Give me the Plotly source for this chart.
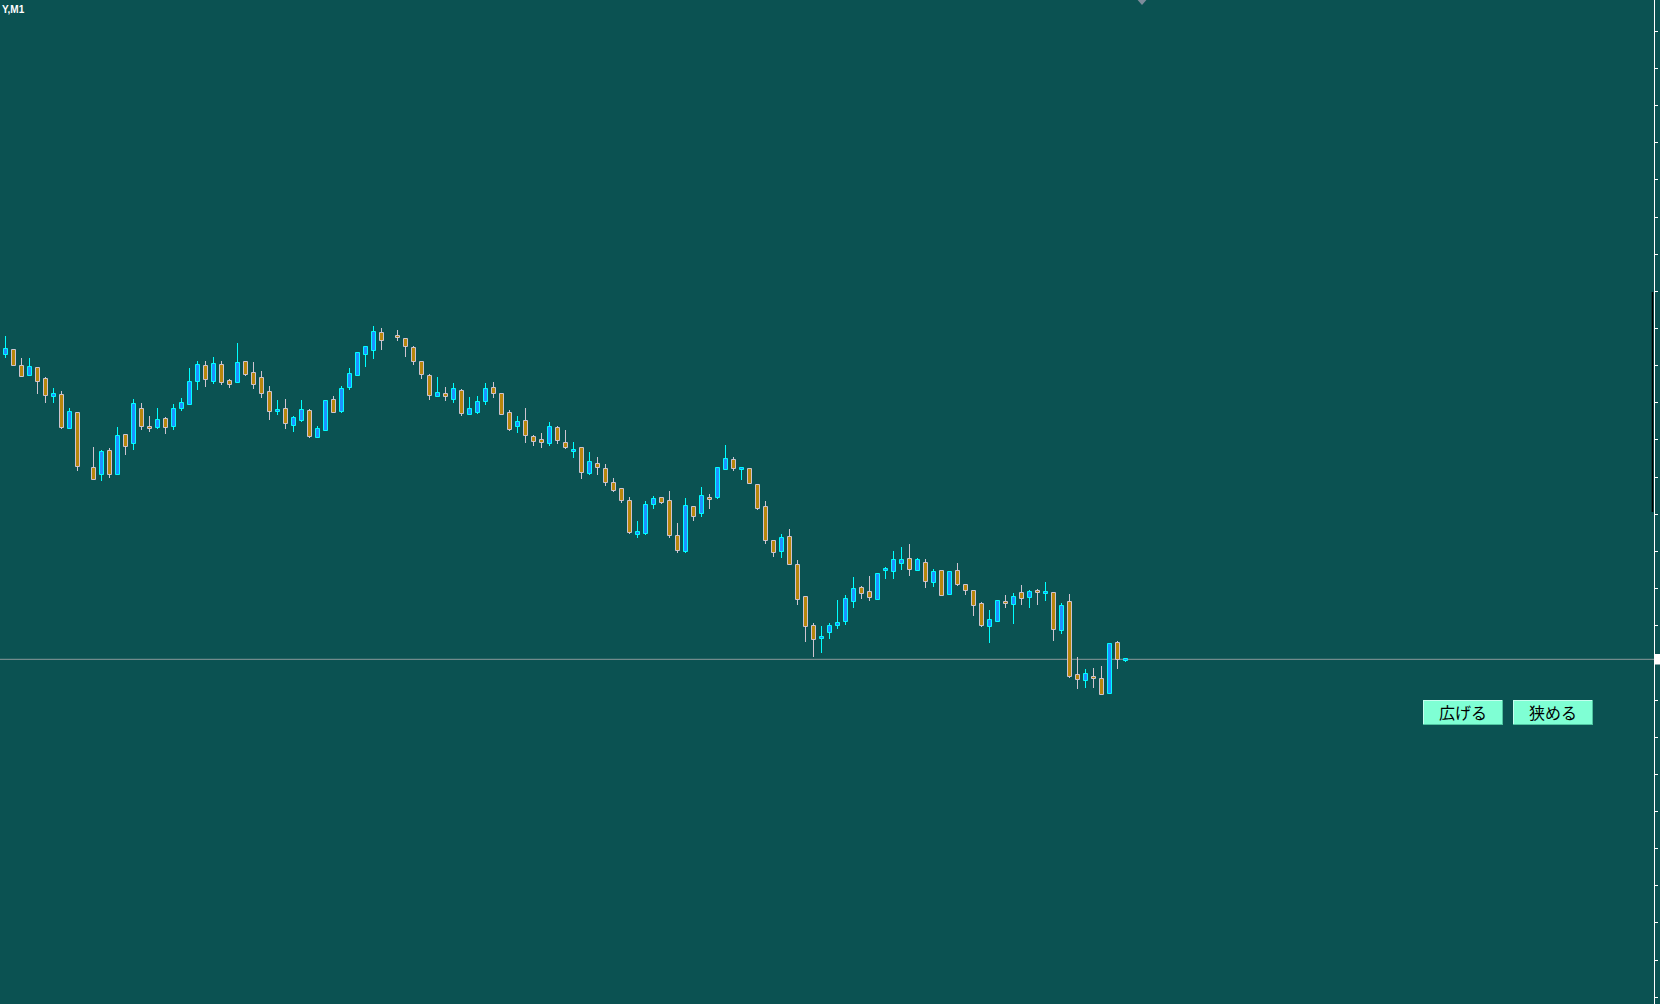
import plotly.graph_objects as go

# ---------------- data (USDJPY M1) ----------------
symbol_label = "Y,M1"
button_labels = ["広げる", "狭める"]

open_ = [119.6453, 119.650, 119.634, 119.6243, 119.632, 119.621, 119.6033, 119.605, 119.5713, 119.587,
         None, 119.5317, 119.5253, 119.5487, 119.5247, 119.5647, 119.5557, 119.5907, 119.573, 119.5723,
         119.581, 119.5733, 119.5913, 119.5953, 119.6183, 119.6337, 119.6183, 119.6347, 119.6187, 119.6173,
         119.6377, 119.6267, 119.6217, 119.6077, 119.5877, 119.5907, 119.5743, 119.5793, 119.5887, 119.5617,
         119.5693, 119.5997, 119.5883, 119.6123, 119.6243, 119.6453, 119.6493, 119.6667, None, 119.664,
         119.6607, 119.6517, 119.6377, 119.6237, 119.6033, 119.6057, 119.5997, 119.6087, 119.5853, 119.5873,
         119.5983, 119.6117, 119.6057, 119.5867, 119.5733, 119.5787, 119.5627, 119.5597, 119.5563, 119.5717,
         119.557, 119.5483, 119.5517, 119.5263, 119.5357, 119.5307, 119.5167, 119.5107, 119.4987, 119.4653,
         119.466, 119.4953, 119.5017, 119.4987, 119.4637, 119.4483, 119.4927, 119.4863, 119.502, 119.5023,
         119.5303, 119.5397, 119.530, 119.5307, 119.5147, 119.4927, 119.4587, 119.4483, 119.463, 119.4347,
         119.4027, 119.3737, 119.3613, 119.3673, 119.3743, 119.3783, 119.3983, 119.4117, 119.4077, 119.4003,
         119.4287, 119.4283, 119.4363, 119.4407, 119.4293, 119.4367, 119.4173, 119.4287, 119.4053, 119.4287,
         119.4147, 119.4087, 119.3957, 119.3733, 119.3783, 119.398, 119.3953, 119.407, 119.4023, 119.409,
         119.4063, 119.4067, 119.3693, 119.3977, 119.3247, 119.3193, 119.323, 119.321, 119.3063, 119.3567,
         119.3393]

high = [119.664, 119.650, 119.642, 119.642, 119.632, 119.623, 119.612, 119.609, 119.592, 119.588,
        None, 119.553, 119.550, 119.552, 119.573, 119.5657, 119.601, 119.597, 119.584, 119.592,
        119.583, 119.596, 119.602, 119.632, 119.639, 119.639, 119.643, 119.639, 119.621, 119.657,
        119.639, 119.638, 119.629, 119.614, 119.600, 119.601, 119.584, 119.600, 119.591, 119.5737,
        119.599, 119.604, 119.614, 119.632, 119.647, 119.653, 119.674, 119.672, None, 119.670,
        119.6607, 119.6537, 119.6377, 119.626, 119.623, 119.613, 119.617, 119.611, 119.603, 119.604,
        119.617, 119.618, 119.606, 119.590, 119.584, 119.592, 119.5647, 119.567, 119.578, 119.574,
        119.570, 119.558, 119.553, 119.548, 119.543, 119.536, 119.5217, 119.5117, 119.5027, 119.479,
        119.4987, 119.5037, 119.5027, 119.5087, 119.477, 119.502, 119.4927, 119.5127, 119.5057, 119.5327,
        119.555, 119.543, 119.5317, 119.5317, 119.5157, 119.4987, 119.4603, 119.466, 119.471, 119.440,
        119.403, 119.377, 119.374, 119.377, 119.400, 119.405, 119.423, 119.414, 119.424, 119.426,
        119.433, 119.449, 119.453, 119.456, 119.442, 119.441, 119.431, 119.429, 119.429, 119.437,
        119.416, 119.410, 119.398, 119.390, 119.399, 119.405, 119.407, 119.415, 119.410, 119.411,
        119.418, 119.407, 119.397, 119.406, 119.343, 119.331, 119.332, 119.334, 119.356, 119.359,
        119.341]

low = [119.642, 119.6343, 119.6233, 119.6243, 119.606, 119.5973, 119.5973, 119.5713, 119.5713, 119.5293,
       None, 119.5203, 119.5193, 119.5223, 119.5247, 119.5453, 119.5503, 119.5703, 119.568, 119.5713,
       119.5663, 119.5703, 119.5893, 119.5953, 119.6103, 119.6133, 119.6163, 119.6153, 119.6123, 119.6173,
       119.6243, 119.6113, 119.6023, 119.580, 119.5853, 119.5713, 119.5683, 119.5783, 119.5623, 119.5617,
       119.5693, 119.5873, 119.587, 119.610, 119.6243, 119.6333, 119.6413, 119.6503, None, 119.6593,
       119.6433, 119.6353, 119.6213, 119.6003, 119.6033, 119.5993, 119.5973, 119.5843, 119.5853, 119.5863,
       119.5953, 119.6023, 119.5853, 119.5693, 119.5673, 119.5573, 119.5543, 119.5523, 119.5543, 119.5563,
       119.5513, 119.5423, 119.5213, 119.5253, 119.5253, 119.5143, 119.5083, 119.4973, 119.4663, 119.4623,
       119.4653, 119.4913, 119.4963, 119.4623, 119.4473, 119.4473, 119.4793, 119.4833, 119.4913, 119.5013,
       119.5303, 119.5293, 119.520, 119.5157, 119.490, 119.4563, 119.4433, 119.4423, 119.4353, 119.3953,
       119.3583, 119.3433, 119.3473, 119.3613, 119.371, 119.3753, 119.3923, 119.4013, 119.3993, 119.4003,
       119.421, 119.421, 119.4303, 119.4243, 119.4293, 119.4123, 119.4133, 119.4043, 119.4053, 119.4143,
       119.4053, 119.384, 119.373, 119.3573, 119.3783, 119.392, 119.3763, 119.3953, 119.3923, 119.3953,
       119.3993, 119.3593, 119.3663, 119.3223, 119.3113, 119.3123, 119.3123, 119.3053, 119.3063, 119.3313,
       119.3383]

close = [119.6507, 119.6343, 119.6233, 119.633, 119.6183, 119.6043, 119.606, 119.5723, 119.588, 119.5333,
         None, 119.5203, 119.5477, 119.5253, 119.5637, 119.5533, 119.5957, 119.5733, 119.5713, 119.5797,
         119.5723, 119.5907, 119.5967, 119.618, 119.6347, 119.6203, 119.6357, 119.6173, 119.6153, 119.6367,
         119.6253, 119.6153, 119.6063, 119.5883, 119.590, 119.5763, 119.5817, 119.5897, 119.5633, 119.5707,
         119.5987, 119.5873, 119.6107, 119.6257, 119.6467, 119.6527, 119.6677, 119.6593, None, 119.6623,
         119.6527, 119.6383, 119.6247, 119.6043, 119.6067, 119.6033, 119.6107, 119.5863, 119.5907, 119.5977,
         119.6107, 119.6063, 119.5853, 119.5703, 119.5777, 119.5643, 119.5577, 119.5573, 119.5727, 119.5593,
         119.5523, 119.550, 119.5273, 119.5377, 119.5323, 119.5173, 119.5093, 119.4993, 119.467, 119.4677,
         119.4947, 119.5007, 119.4973, 119.4643, 119.4493, 119.4937, 119.4833, 119.5037, 119.5003, 119.5317,
         119.5407, 119.5313, 119.5317, 119.5157, 119.491, 119.4593, 119.4473, 119.462, 119.4353, 119.4003,
         119.3727, 119.3603, 119.363, 119.3737, 119.3767, 119.4007, 119.4107, 119.4063, 119.4023, 119.4257,
         119.4307, 119.4397, 119.4397, 119.4303, 119.4397, 119.4183, 119.4277, 119.4043, 119.428, 119.4153,
         119.4093, 119.3943, 119.3743, 119.3797, 119.3987, 119.3963, 119.4027, 119.4013, 119.408, 119.4073,
         119.408, 119.3703, 119.3937, 119.3233, 119.3203, 119.3257, 119.3213, 119.3053, 119.3557, 119.3403,
         119.3407]

# ---------------- style ----------------
BG = "#0b5252"
UP_FILL, UP_EDGE = "#1e90ff", "#00ffff"
DN_FILL, DN_EDGE = "#b8860b", "#cfc4cf"
BID_COLOR = "#8c9a9c"

W, H = 1660, 1004
MR = 6
PW = W - MR
PXU = 8.0                       # pixels per bar
X0 = -5.5 / PXU
X_RANGE = [X0, X0 + PW / PXU]
Y_TOP = 120.0
Y_RANGE = [Y_TOP - H / 1000.0, Y_TOP]


def px(x):
    return x / PW


def py(y):
    return 1 - y / H


# ---------------- build marks ----------------
bx, base, hgt, fills, edges = [], [], [], [], []
wbase, whgt = [], []
for i, (o, h, l, c) in enumerate(zip(open_, high, low, close)):
    if o is None:
        continue
    up = c > o
    bx.append(i)
    base.append(min(o, c))
    hgt.append(abs(c - o))
    wbase.append(l)
    whgt.append(h - l)
    fills.append(UP_FILL if up else DN_FILL)
    edges.append(UP_EDGE if up else DN_EDGE)

fig = go.Figure()
# wicks (1 px wide bars, drawn first so the bodies cover them)
fig.add_trace(go.Bar(x=bx, y=whgt, base=wbase, width=1.0 / PXU,
                     marker=dict(color=edges, line=dict(width=0)),
                     hoverinfo="skip", showlegend=False))
# bodies
fig.add_trace(go.Bar(x=bx, y=hgt, base=base, width=0.5,
                     marker=dict(color=fills, line=dict(color=edges, width=1)),
                     hoverinfo="skip", showlegend=False))

shapes = []
# bid line
shapes.append(dict(type="line", xref="paper", yref="y", x0=0, x1=1,
                   y0=close[-1], y1=close[-1], layer="below",
                   line=dict(color=BID_COLOR, width=1)))
# bid marker on price scale
shapes.append(dict(type="rect", xref="paper", yref="paper",
                   x0=px(1655), x1=px(1662), y0=py(664.5), y1=py(654),
                   fillcolor="white", line=dict(width=0)))
# black bar beside the price scale
shapes.append(dict(type="rect", xref="paper", yref="paper",
                   x0=px(1651.7), x1=px(1653.3), y0=py(512), y1=py(292),
                   fillcolor="black", line=dict(width=0)))
# chart-shift triangle at the top
tx = (1142 - 5.5) / PXU
shapes.append(dict(type="path", xref="x", yref="paper",
                   path=f"M {tx-0.55},1 L {tx+0.55},1 L {tx},{py(5)} Z",
                   fillcolor="#7d8c9b", line=dict(width=0)))

annotations = [dict(text=f"<b>{symbol_label}</b>", xref="paper", yref="paper",
                    x=0, y=py(1.5), xanchor="left", yanchor="top", showarrow=False,
                    font=dict(family="Liberation Sans", size=10, color="white"))]

# buttons
for (bx0, bx1), label in zip([(1423, 1503), (1513, 1593)], button_labels):
    by0, by1 = 700, 725
    shapes.append(dict(type="rect", xref="paper", yref="paper",
                       x0=px(bx0), x1=px(bx1), y0=py(by1), y1=py(by0),
                       fillcolor="#7fffd4", line=dict(width=0)))
    for (ax0, ay0, ax1, ay1, col) in [
        (bx0, by0 + 0.5, bx1, by0 + 0.5, "#c6fff0"),
        (bx0 + 0.5, by0, bx0 + 0.5, by1, "#c6fff0"),
        (bx0, by1 - 0.5, bx1, by1 - 0.5, "#4fc4a0"),
        (bx1 - 0.5, by0, bx1 - 0.5, by1, "#4fc4a0"),
    ]:
        shapes.append(dict(type="line", xref="paper", yref="paper",
                           x0=px(ax0), x1=px(ax1), y0=py(ay0), y1=py(ay1),
                           line=dict(color=col, width=1)))
    annotations.append(dict(text=label, xref="paper", yref="paper",
                            x=px((bx0 + bx1) / 2), y=py((by0 + by1) / 2 - 0.5),
                            xanchor="center", yanchor="middle", showarrow=False,
                            font=dict(family="Noto Sans CJK JP", size=16, color="black")))

fig.update_layout(
    template="none",
    width=W, height=H,
    margin=dict(l=0, r=MR, t=0, b=0, pad=0),
    paper_bgcolor=BG, plot_bgcolor=BG,
    barmode="overlay", bargap=0,
    shapes=shapes, annotations=annotations,
    showlegend=False,
    xaxis=dict(range=X_RANGE, visible=False, fixedrange=True),
    yaxis=dict(range=Y_RANGE, side="right", showgrid=False, zeroline=False,
               showline=True, linecolor="white", linewidth=1,
               ticks="outside", ticklen=3, tickwidth=1, tickcolor="white",
               tick0=119.9687, dtick=0.03715, showticklabels=False,
               automargin=False, fixedrange=True),
)

fig.write_html("out.html", config={"displayModeBar": False},
               post_script="document.body.style.margin='0';document.body.style.overflow='hidden';")
